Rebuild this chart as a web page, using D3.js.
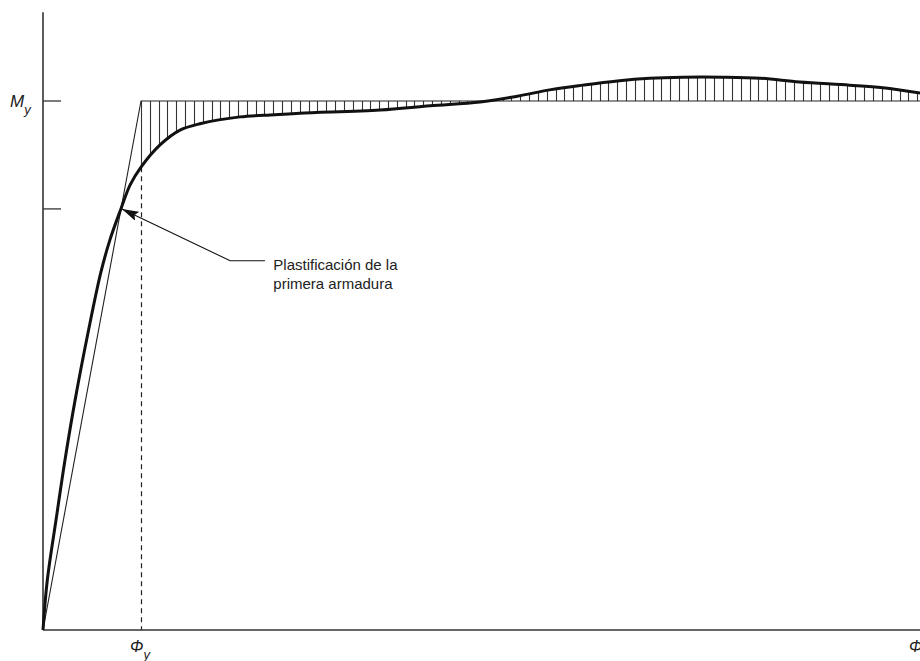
<!DOCTYPE html>
<html>
<head>
<meta charset="utf-8">
<script src="https://cdn.jsdelivr.net/npm/d3@7"></script>
<style>
  html, body { margin: 0; padding: 0; background: #fff; }
  svg { display: block; }
  text { font-family: "Liberation Sans", Arial, Helvetica, sans-serif; fill: #222; }
</style>
</head>
<body>
<svg id="chart" width="920" height="661"></svg>
<script>
//-----------------------------------------------------//

// Moment-curvature curve, curvature in units of phi_y, moment in units of M_y
const phiValues    = [0, 0.044, 0.139, 0.224, 0.328, 0.465, 0.589, 0.682, 0.795, 0.888, 1.0, 1.194, 1.398, 1.602, 2.01, 2.367, 2.62, 3.44, 3.95, 4.46, 4.84, 5.17, 5.51, 5.86, 6.19, 6.53, 6.94, 7.32, 7.72, 8.23, 8.57, 8.95];
const momentValues = [0, 0.0945, 0.2155, 0.321, 0.435, 0.567, 0.675, 0.737, 0.796, 0.841, 0.875, 0.917, 0.945, 0.957, 0.970, 0.974, 0.977, 0.983, 0.991, 0.998, 1.009, 1.021, 1.030, 1.038, 1.043, 1.045, 1.045, 1.043, 1.036, 1.030, 1.025, 1.015];

// Idealised bilinear line: origin -> (phi_y, M_y) -> plateau
const bilinearPhi    = [0, 1, 9];
const bilinearMoment = [0, 1, 1];

// First yield point and axis ticks
const firstYield = [0.795, 0.796];
const yTickValues = [0.796, 1];
const yTickLabels = ["", "M|y"];
const xTickValues = [1, 8.95];
const xTickLabels = ["Φ|y", "Φ|"];

// Annotation
const noteLines = ["Plastificación de la", "primera armadura"];
const noteElbow = [1.91, 0.698];
const noteEnd   = [2.265, 0.698];
const noteText  = [2.35, 0.681];

const hatchStep = 0.09;

//-----------------------------------------------------//

var svg = d3.select("#chart");
var x = d3.scaleLinear().domain([0, 9]).range([43, 925]);
var y = d3.scaleLinear().domain([0, 1]).range([630, 101]);

var curveData = phiValues.map((p, i) => [p, momentValues[i]]);
var lineGen = d3.line()
  .x(d => x(d[0]))
  .y(d => y(d[1]))
  .curve(d3.curveCatmullRom.alpha(0.5));

// arrow marker
svg.append("defs").append("marker")
  .attr("id", "arrow")
  .attr("viewBox", "0 0 17 10")
  .attr("refX", 17).attr("refY", 5)
  .attr("markerWidth", 17).attr("markerHeight", 10)
  .attr("markerUnits", "userSpaceOnUse")
  .attr("orient", "auto")
  .append("path").attr("d", "M0,0 L17,5 L0,10 L3,5 Z").attr("fill", "#111");

// main curve path (drawn later, used first for sampling)
var curvePath = svg.append("path")
  .datum(curveData)
  .attr("fill", "none")
  .attr("stroke", "none")
  .attr("d", lineGen);

function curveYAt(px)
{
  let node = curvePath.node();
  let lo = 0, hi = node.getTotalLength();
  for (let i = 0; i < 40; i++) {
    let mid = (lo + hi) / 2;
    if (node.getPointAtLength(mid).x < px) lo = mid; else hi = mid;
  }
  return node.getPointAtLength((lo + hi) / 2).y;
}

// hatching between bilinear plateau and curve
var hatchX = d3.range(1, 9, hatchStep);
svg.append("g").selectAll("line")
  .data(hatchX)
  .enter().append("line")
  .attr("x1", d => Math.round(x(d)) + 0.5)
  .attr("x2", d => Math.round(x(d)) + 0.5)
  .attr("y1", y(1))
  .attr("y2", d => curveYAt(Math.round(x(d)) + 0.5))
  .attr("stroke", "#333")
  .attr("stroke-width", 1.1);

// dashed line at phi_y
svg.append("line")
  .attr("x1", Math.round(x(1)) + 0.5).attr("x2", Math.round(x(1)) + 0.5)
  .attr("y1", curveYAt(x(1))).attr("y2", y(0))
  .attr("stroke", "#222")
  .attr("stroke-width", 1.2)
  .attr("stroke-dasharray", "5,4");

// bilinear line
svg.append("path")
  .datum(bilinearPhi.map((p, i) => [p, bilinearMoment[i]]))
  .attr("fill", "none")
  .attr("stroke", "#222")
  .attr("stroke-width", 1.1)
  .attr("d", d3.line().x(d => x(d[0])).y(d => y(d[1])));

// axes
svg.append("line")
  .attr("x1", x(0)).attr("x2", x(0))
  .attr("y1", y(0)).attr("y2", y(1.168))
  .attr("stroke", "#333").attr("stroke-width", 1.6);
svg.append("line")
  .attr("x1", x(0)).attr("x2", 920)
  .attr("y1", y(0)).attr("y2", y(0))
  .attr("stroke", "#333").attr("stroke-width", 1.6);

svg.append("g").selectAll("line")
  .data(yTickValues)
  .enter().append("line")
  .attr("x1", x(0)).attr("x2", x(0) + 18)
  .attr("y1", d => y(d)).attr("y2", d => y(d))
  .attr("stroke", "#333").attr("stroke-width", 1.3);

// main curve on top
svg.append("path")
  .datum(curveData)
  .attr("fill", "none")
  .attr("stroke", "#111")
  .attr("stroke-width", 3)
  .attr("stroke-linejoin", "round")
  .attr("d", lineGen);

// tick labels with subscripts
function subLabel(g, label)
{
  let parts = label.split("|");
  g.append("tspan").text(parts[0]);
  if (parts[1]) {
    g.append("tspan").attr("font-size", 13).attr("dy", 7).text(parts[1]);
  }
}

yTickValues.forEach(function(v, i) {
  if (!yTickLabels[i]) return;
  let t = svg.append("text")
    .attr("x", 10).attr("y", y(v) + 6)
    .attr("font-size", 17).attr("font-style", "italic");
  subLabel(t, yTickLabels[i]);
});

xTickValues.forEach(function(v, i) {
  let t = svg.append("text")
    .attr("x", x(v) - 11).attr("y", 652)
    .attr("font-size", 16).attr("font-style", "italic");
  subLabel(t, xTickLabels[i]);
});

// annotation
svg.append("path")
  .attr("fill", "none")
  .attr("stroke", "#111")
  .attr("stroke-width", 1.1)
  .attr("marker-end", "url(#arrow)")
  .attr("d", d3.line()([[x(noteEnd[0]), y(noteEnd[1])], [x(noteElbow[0]), y(noteElbow[1])], [x(firstYield[0]) + 1, y(firstYield[1])]]));

svg.append("g").selectAll("text")
  .data(noteLines)
  .enter().append("text")
  .attr("x", x(noteText[0]))
  .attr("y", (d, i) => y(noteText[1]) + i * 19)
  .attr("font-size", 15)
  .text(d => d);
</script>
</body>
</html>
